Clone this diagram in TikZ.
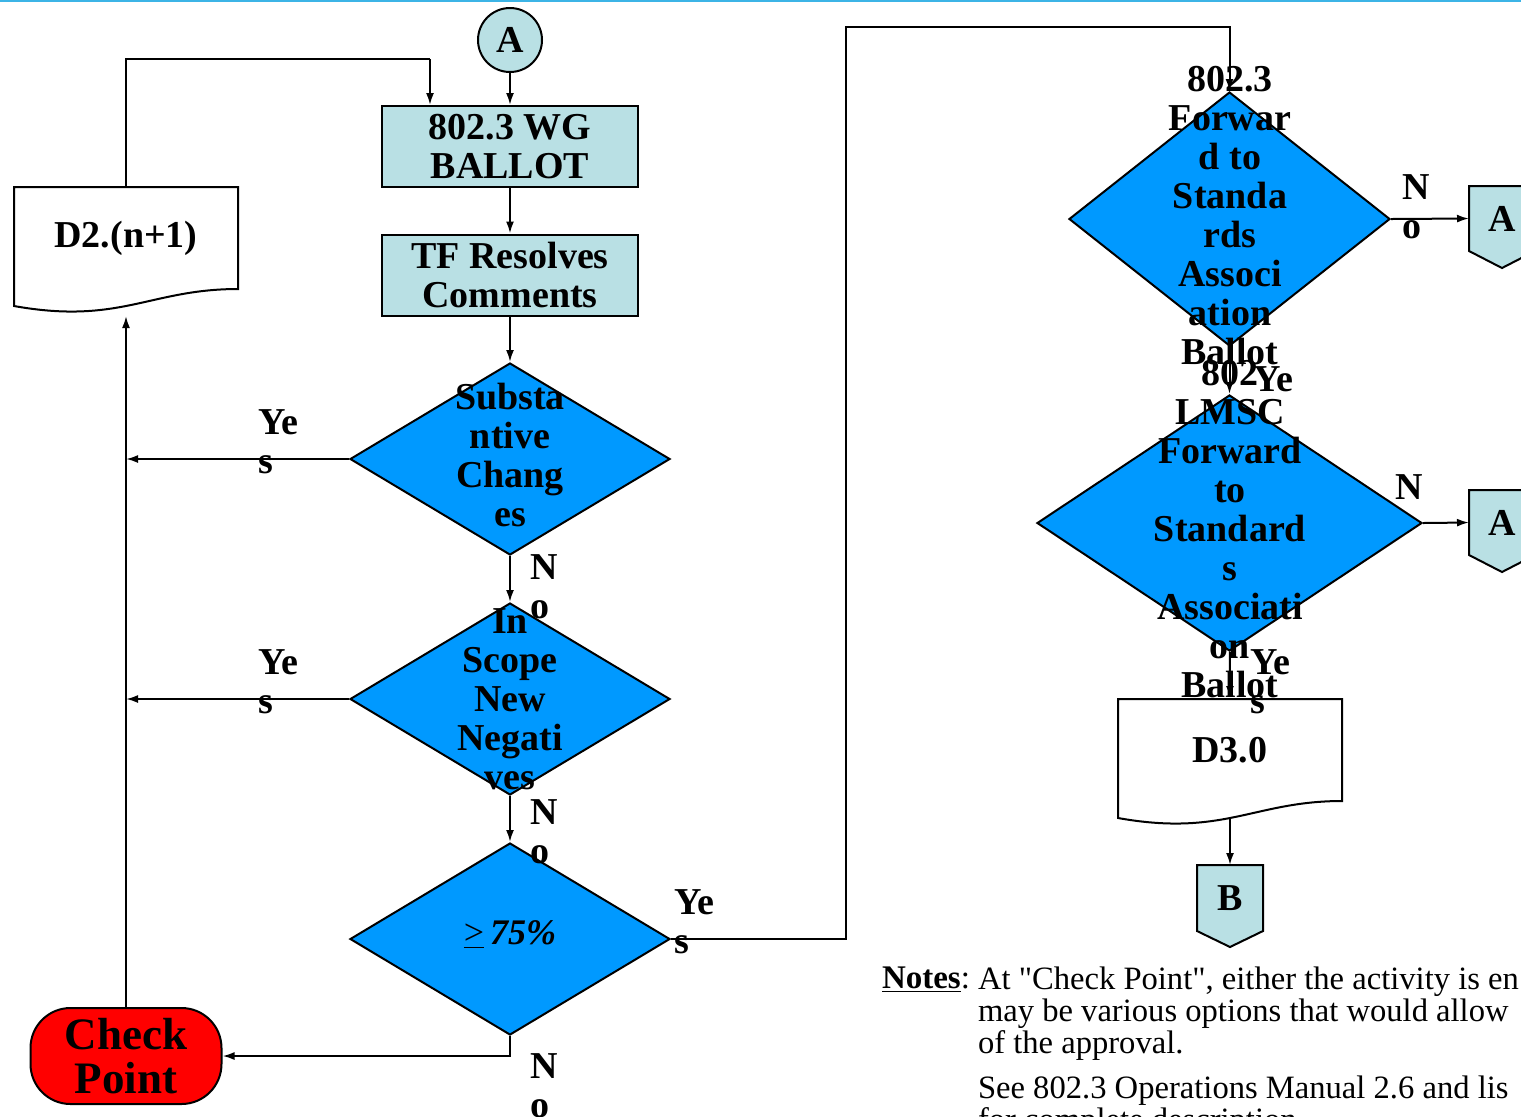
\documentclass[tikz,border=0pt]{standalone}
\usepackage{fontspec}
\setmainfont{Liberation Serif}
\newfontfamily\notesfont{Liberation Serif}
\usetikzlibrary{shapes.geometric,arrows.meta}

\definecolor{boxblue}{RGB}{185,224,228}
\definecolor{diamblue}{RGB}{0,153,255}
\definecolor{topline}{RGB}{60,180,230}

\begin{document}
\begin{tikzpicture}[x=0.5pt,y=-0.5pt,line width=1pt,
    font=\bfseries\fontsize{19}{19.5}\selectfont,
    arr/.style={-{Latex[length=6pt,width=4pt]}},
    procbox/.style={rectangle,draw,fill=boxblue,minimum width=128pt,minimum height=40.5pt,inner sep=0pt,align=center},
    decision/.style={diamond,draw,fill=diamblue,inner sep=0pt},
    dtext/.style={align=center,inner sep=0pt},
    answer/.style={anchor=west,align=left,inner sep=0pt},
    offpage/.style={draw,fill=boxblue}]

    \useasboundingbox (0,0) rectangle (1521,1116);
    \draw[topline,line width=1.2pt] (0,1) -- (1521,1);

    % left column
    \node[circle,draw,fill=boxblue,minimum size=32pt,inner sep=0pt] (acirc) at (510,40) {A};
    \node[procbox] (ballot) at (510,146.5) {802.3 WG\\BALLOT};
    \node[procbox] (resolve) at (510,275) {TF Resolves\\Comments};

    \node[decision,minimum width=160pt,minimum height=96pt] (subst) at (510,459) {};
    \node[dtext] (subst-t) at (510,455) {Substa\\ntive\\Chang\\es};
    \node[decision,minimum width=160pt,minimum height=96pt] (scope) at (510,699) {};
    \node[dtext] (scope-t) at (510,699) {In\\Scope\\New\\Negati\\ves};
    \node[decision,minimum width=160pt,minimum height=96pt] (pct) at (510,939) {};
    \node[dtext,font=\bfseries\fontsize{18}{19.5}\selectfont] (pct-t) at (510,935) {{\mdseries\underline{>}}\,\textit{75\%}};

    \draw[fill=white] (14,187) -- (238,187) -- (238,289) .. controls (150,289) and (120,325) .. (14,306) -- cycle;
    \node[inner sep=0pt,minimum width=112pt,minimum height=51pt] (dnext) at (126,238) {D2.(n+1)};
    \coordinate (dnextin) at (126,316);
    \coordinate (fb) at (430,59);

    \node[draw,fill=red,rounded corners=20pt,minimum width=95.5pt,minimum height=48pt,inner sep=0pt,align=center,
        font=\bfseries\fontsize{22.5}{22}\selectfont] (check) at (126,1056) {Check\\Point};

    % right column
    \node[decision,minimum width=160.5pt,minimum height=127pt] (fwd) at (1229.5,219) {};
    \node[dtext] (fwd-t) at (1230,216) {802.3\\Forwar\\d to\\Standa\\rds\\Associ\\ation\\Ballot};
    \node[decision,minimum width=192.5pt,minimum height=128pt] (lmsc) at (1229.5,523) {};
    \node[dtext] (lmsc-t) at (1230,529) {802\\LMSC\\Forward\\to\\Standard\\s\\Associati\\on\\Ballot};

    \node[inner sep=0pt,minimum width=32pt,minimum height=31.5pt] (aone) at (1502,218.5) {};
    \draw[offpage] (aone.north west) -- (aone.north east) -- (aone.south east) -- ([yshift=-8.5pt]aone.south)
        -- (aone.south west) -- cycle;
    \node[inner sep=0pt,minimum width=32pt,minimum height=31.5pt] (atwo) at (1502,522.5) {};
    \draw[offpage] (atwo.north west) -- (atwo.north east) -- (atwo.south east) -- ([yshift=-8.5pt]atwo.south)
        -- (atwo.south west) -- cycle;
    \node (aone-t) at (aone) {A};
    \node (atwo-t) at (atwo) {A};

    \draw[fill=white] (1118,699) -- (1342,699) -- (1342,801) .. controls (1254,801) and (1224,837) .. (1118,818) -- cycle;
    \node[inner sep=0pt,minimum width=112pt,minimum height=51pt] (dthree) at (1230,750) {D3.0};
    \coordinate (dthreeout) at (1230,818);

    \node[inner sep=0pt,minimum width=32pt,minimum height=32pt] (bnode) at (1230,898) {};
    \draw[offpage] (bnode.north west) -- (bnode.north east) -- (bnode.south east) -- ([yshift=-8pt]bnode.south)
        -- (bnode.south west) -- cycle;
    \node (btext) at (bnode) {B};

    \coordinate (up) at (846,27);

    % connectors
    \draw[arr] (acirc) -- (ballot);
    \draw[arr] (fb) -- (fb |- ballot.north);
    \draw (dnext.north) |- (fb);
    \draw[arr] (ballot) -- (resolve);
    \draw[arr] (resolve) -- (subst);
    \draw[arr] (subst) -- (scope);
    \draw[arr] (scope) -- (pct);
    \draw[arr] (subst.west) -- (subst.west -| dnextin);
    \draw[arr] (scope.west) -- (scope.west -| dnextin);
    \draw[arr] (check.north) -- (dnextin);
    \draw[arr] (pct.south) |- (check.east);
    \draw[arr] (pct.east) -| (up) -- (up -| fwd.north) -- (fwd.north);
    \draw[arr] (fwd) -- (lmsc);
    \draw[arr] (fwd.east) -- (aone.west);
    \draw[arr] (lmsc.east) -- (atwo.west);
    \draw[arr] (lmsc) -- (dthree.north);
    \draw[arr] (dthreeout) -- (bnode.north);

    % answers
    \node[answer] (y1) at (257,442) {Ye\\s};
    \node[answer] (y2) at (257,682) {Ye\\s};
    \node[answer] (n1) at (529,587) {N\\o};
    \node[answer] (n2) at (529,832) {N\\o};
    \node[answer] (n3) at (529,1086) {N\\o};
    \node[answer] (y3) at (673,922) {Ye\\s};
    \node[answer] (n4) at (1401,207) {N\\o};
    \node[answer] (n5) at (1394,487) {N};
    \node[answer] (y4) at (1252,379) {Ye};
    \node[answer] (y5) at (1249,682) {Ye\\s};

    % notes
    \node[anchor=north west,inner sep=0pt,font=\notesfont\mdseries\fontsize{16.5}{16}\selectfont] (noteslbl) at (881,966)
        {\underline{\textbf{Notes}}:};
    \node[anchor=north west,inner sep=0pt,align=left,font=\notesfont\mdseries\fontsize{16.3}{16}\selectfont] (notes) at (977,966)
        {At "Check Point", either the activity is en\\may be various options that would allow\\of the approval.\\[6.5pt]
         See 802.3 Operations Manual 2.6 and lis\\for complete description};
\end{tikzpicture}
\end{document}
